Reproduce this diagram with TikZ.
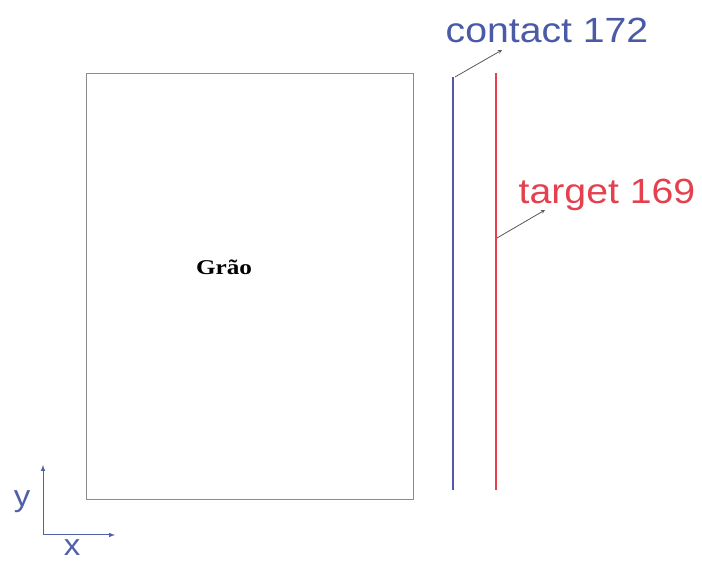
\documentclass[tikz,border=0pt]{standalone}
\usepackage{fontspec}
\setmainfont{Liberation Serif}
\setsansfont{Liberation Sans}
\usepackage{xcolor}
\usepackage{tikz}
\definecolor{GRBox}{HTML}{8C8C8C}
\definecolor{GRBlue}{HTML}{5558A8}
\definecolor{GRBlueText}{HTML}{4A5AA6}
\definecolor{GRRed}{HTML}{E4404E}
\definecolor{GRArrow}{HTML}{5A5A5A}
\definecolor{GRAxis}{HTML}{4F5FA8}

\begin{document}
\begin{tikzpicture}[x=1pt,y=1pt,
  lbl/.style={font=\sffamily\fontsize{35}{38}\selectfont,inner sep=0pt,xscale=1.12,transform shape},
  axlbl/.style={font=\sffamily\fontsize{30}{32}\selectfont,inner sep=0pt,text=GRAxis,xscale=1.1,transform shape},
  pointer/.style={GRArrow,line width=.8pt,-stealth}]
\path[use as bounding box] (0,0) rectangle (702,562);
\fill[white] (0,0) rectangle (702,562);
% grain
\draw[GRBox,line width=1pt] (86,62) rectangle (413,488);
\node[font=\bfseries\fontsize{21}{24}\selectfont,xscale=1.2,transform shape] (grao) at (224,295) {Grão};
% contact and target lines
\coordinate (cbot) at (453,72);
\coordinate (ctop) at (453,485);
\coordinate (tbot) at (496,72);
\coordinate (ttop) at (496,489);
\draw[GRBlue,line width=1.6pt] (cbot) -- (ctop);
\draw[GRRed,line width=1.6pt] (tbot) -- (ttop);
\node[lbl,text=GRBlueText] (contact) at (547,532) {contact 172};
\node[lbl,text=GRRed] (target) at (607,367) {target 169};
\coordinate (cfrom) at (455,485);
\coordinate (cto) at (502,512);
\coordinate (tfrom) at (497,324);
\coordinate (tto) at (545,352);
\draw[pointer] (cfrom) -- (cto);
\draw[pointer] (tfrom) -- (tto);
% axes
\coordinate (origin) at (43,27);
\coordinate (yend) at (43,97);
\coordinate (xend) at (115,27);
\draw[GRAxis,line width=1pt,-latex] (origin) -- (yend);
\draw[GRAxis,line width=1pt,-latex] (origin) -- (xend);
\node[axlbl] (ylbl) at (22,60) {y};
\node[axlbl,anchor=base] (xlbl) at (72,6) {x};
\end{tikzpicture}
\end{document}
